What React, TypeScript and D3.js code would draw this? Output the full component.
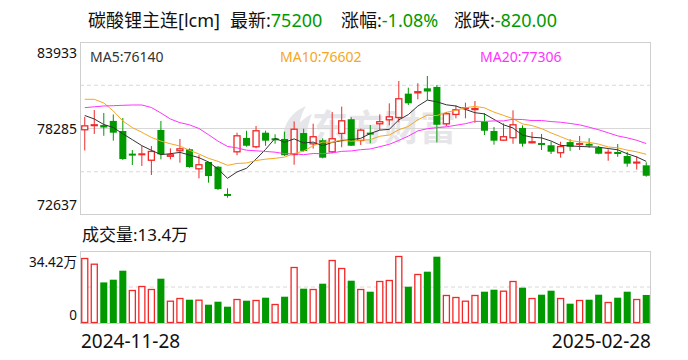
import React from "react";
import * as d3 from "d3";

// ---------- data ----------
const titleName = "碳酸锂主连[lcm]";
const latestPrice = "75200";
const changePct = "-1.08%";
const changeAbs = "-820.00";
const volumeNow = "13.4万";
const maLabels = ["MA5:76140", "MA10:76602", "MA20:77306"];
const dateTicks = ["2024-11-28", "2025-02-28"];
const priceTicks = [83933, 78285, 72637];
const volumeTickValues = [344200, 0];
const volumeTickLabels = ["34.42万", "0"];

// closes of the 19 sessions before the first candle (only feed the moving averages)
const priorCloses = [77400, 77290, 77630, 75770, 76170, 76610, 80080, 83780, 84440, 81790,
  78560, 80760, 83240, 82790, 80900, 79700, 80145, 78990, 78345];

const opens = [78170, 78440, 78510, 78780, 78120, 76590, 76590, 76180, 78190, 76440,
  76800, 76930, 75620, 76100, 75790, 73950, 76730, 77670, 77060, 78010,
  77590, 77600, 76550, 77990, 77250, 77520, 76730, 77930, 78890, 77470,
  77960, 78560, 78820, 78970, 80560, 80580, 80910, 81000, 78560, 79170,
  79600, 79490, 78730, 78120, 77490, 77650, 78320, 77320, 77280, 77190,
  76670, 77400, 77270, 77290, 77030, 76700, 76690, 76490, 76000, 75880];
const highs = [79050, 79490, 79300, 79200, 78970, 76880, 77140, 77140, 78780, 76990,
  77600, 76990, 76550, 76110, 75840, 74380, 78010, 78140, 78450, 78140,
  77910, 78080, 78750, 78270, 78600, 77650, 79360, 79710, 79020, 78270,
  78510, 79210, 79930, 81390, 80950, 81240, 81710, 81130, 79360, 79800,
  79970, 80080, 79280, 78380, 78620, 79470, 78490, 78060, 77930, 77420,
  77420, 77580, 77800, 77650, 77140, 76930, 77270, 76750, 76470, 76080];
const lows = [76850, 77930, 77810, 77490, 76230, 75900, 75840, 75250, 76270, 76270,
  76050, 75720, 75030, 74750, 74270, 73770, 76540, 77100, 76990, 77160,
  77290, 76490, 75920, 76770, 76970, 76340, 76670, 77060, 77140, 77210,
  77320, 78190, 78490, 78690, 79820, 80190, 80150, 77380, 78450, 78950,
  78950, 78660, 77860, 77230, 77480, 77290, 77100, 77320, 76880, 76620,
  76380, 76820, 76880, 77030, 76600, 76180, 76440, 75790, 75600, 75140];
const closes = [78490, 78560, 78350, 78010, 76290, 76570, 76610, 76820, 76600, 76600,
  76990, 75770, 75950, 75180, 74330, 73940, 77840, 77160, 78170, 77490,
  77570, 76540, 78270, 76820, 77780, 76380, 77650, 78820, 77160, 78210,
  77940, 78760, 79080, 80260, 79930, 80720, 80700, 78530, 79280, 79540,
  79610, 79620, 78140, 77490, 77780, 78560, 77290, 77450, 77270, 76770,
  77140, 77100, 77280, 77160, 76640, 76710, 76680, 75990, 76120, 75200];
const volumes = [310800, 283500, 194100, 207000, 250000, 157800, 176900, 162600, 211800, 106600,
  119500, 111400, 111400, 87500, 101800, 77900, 114700, 106600, 110000, 121000,
  90800, 125700, 267700, 164000, 162500, 187900, 301200, 262900, 202200, 162500,
  149600, 200800, 205600, 320300, 173500, 234300, 245300, 317000, 133900, 124300,
  106600, 133900, 149600, 159200, 154400, 200800, 168800, 119500, 135300, 154400,
  119500, 92300, 110000, 111400, 135300, 100400, 121000, 149600, 114700, 134000];

// ---------- style ----------
const RED = "#f02828";
const GREEN = "#009a00";
const MA_COLORS = ["#333333", "#f5a623", "#ff33ff"];
const FONT = "'Noto Sans', 'Noto Sans CJK SC', sans-serif";

const W = 688;
const H = 360;
const L = 80;
const R = 651;
const PT = 42;
const PB = 215;
const VT = 251;
const VB = 323;

export default function App() {
  const n = closes.length;
  const idx = d3.range(n);
  const x = d3.scaleBand<number>().domain(idx).range([L, R]).paddingInner(0.26).paddingOuter(0.13);
  const bw = x.bandwidth();
  const cx = (i: number) => (x(i) as number) + bw / 2;
  const y = d3.scaleLinear().domain([priceTicks[2], priceTicks[0]]).range([PB, PT]);
  const yv = d3.scaleLinear().domain([0, volumeTickValues[0]]).range([VB, VT]);

  const all = priorCloses.concat(closes);
  const off = priorCloses.length;
  const ma = (p: number) => idx.map((i) => d3.mean(all.slice(i + off - p + 1, i + off + 1)) as number);
  const maSeries = [ma(5), ma(10), ma(20)];
  const line = d3.line<number>().x((_, i) => cx(i)).y((v) => y(v));

  const gridY = [PT + (PB - PT) / 4, PT + (PB - PT) / 2, PT + (3 * (PB - PT)) / 4];
  const wmLogo = "M282 140 C 284 122, 292 112, 306 106 C 300 116, 298 126, 300 138 Z M290 140 C 294 128, 300 120, 312 114 C 308 124, 306 132, 308 140 Z";

  return (
    <svg width={W} height={H} style={{ position: "absolute", left: 0, top: 0, background: "#fff" }} fontFamily={FONT}>
      <rect x={0} y={0} width={W} height={H} fill="#fff" />
      {/* title */}
      <g fontSize={18} dominantBaseline="central">
        <text x={88} y={20} fill="#111">{titleName}</text>
        <text x={230} y={20} fill="#111">最新:<tspan fill={GREEN}>{latestPrice}</tspan></text>
        <text x={341} y={20} fill="#111">涨幅:<tspan fill={GREEN}>{changePct}</tspan></text>
        <text x={454} y={20} fill="#111">涨跌:<tspan fill={GREEN}>{changeAbs}</tspan></text>
      </g>

      {/* watermark */}
      <g fill="#e6e6ea">
        <path d={wmLogo} />
        <text x={312} y={141} fontSize={36} fontWeight="bold" fontFamily="'Noto Sans CJK SC', sans-serif">东方财富</text>
      </g>

      {/* price panel */}
      {gridY.map((g, k) => (
        <line key={k} x1={L} x2={R} y1={g} y2={g} stroke="#d8d8d8" strokeWidth={1} strokeDasharray={k === 1 ? undefined : "4,3"} />
      ))}
      <rect x={L + 0.5} y={PT + 0.5} width={R - L - 1} height={PB - PT - 1} fill="none" stroke="#cfcfcf" />
      <g fontSize={14} fill="#111" textAnchor="end" dominantBaseline="central">
        <text x={77} y={y(priceTicks[0]) + 10}>{priceTicks[0]}</text>
        <text x={77} y={y(priceTicks[1])}>{priceTicks[1]}</text>
        <text x={77} y={y(priceTicks[2]) - 10.5}>{priceTicks[2]}</text>
      </g>
      <g fontSize={14} dominantBaseline="central">
        <text x={90} y={56} fill={MA_COLORS[0]}>{maLabels[0]}</text>
        <text x={280} y={56} fill={MA_COLORS[1]}>{maLabels[1]}</text>
        <text x={480} y={56} fill={MA_COLORS[2]}>{maLabels[2]}</text>
      </g>

      {/* candles */}
      {idx.map((i) => {
        const up = closes[i] >= opens[i];
        const col = up ? RED : GREEN;
        const yo = y(opens[i]);
        const yc = y(closes[i]);
        const top = Math.min(yo, yc);
        const h = Math.abs(yo - yc);
        const xx = x(i) as number;
        return (
          <g key={i}>
            <line x1={cx(i)} x2={cx(i)} y1={y(highs[i])} y2={y(lows[i])} stroke={col} strokeWidth={1} />
            {h < 1.6 ? (
              <rect x={xx} y={(yo + yc) / 2 - 1} width={bw} height={2} fill={col} />
            ) : up ? (
              <rect x={xx + 0.5} y={top + 0.5} width={bw - 1} height={h - 1} fill="#fff" stroke={col} strokeWidth={1.3} />
            ) : (
              <rect x={xx} y={top} width={bw} height={h} fill={col} />
            )}
          </g>
        );
      })}

      {/* moving averages */}
      {maSeries.map((s, k) => (
        <path key={k} d={line(s) as string} fill="none" stroke={MA_COLORS[k]} strokeWidth={1} />
      ))}

      {/* volume panel */}
      <text x={82} y={234} fontSize={17} fill="#111" dominantBaseline="central">成交量:{volumeNow}</text>
      <line x1={L} x2={R} y1={(VT + VB) / 2} y2={(VT + VB) / 2} stroke="#d8d8d8" strokeDasharray="4,3" />
      <rect x={L + 0.5} y={VT + 0.5} width={R - L - 1} height={VB - VT} fill="none" stroke="#cfcfcf" />
      <g fontSize={13.5} fill="#111" textAnchor="end" dominantBaseline="central">
        <text x={77} y={yv(volumeTickValues[0]) + 10.5}>{volumeTickLabels[0]}</text>
        <text x={77} y={yv(volumeTickValues[1]) - 8}>{volumeTickLabels[1]}</text>
      </g>
      {idx.map((i) => {
        const prev = i === 0 ? priorCloses[priorCloses.length - 1] : closes[i - 1];
        const up = closes[i] >= prev;
        const xx = x(i) as number;
        const top = yv(volumes[i]);
        return up ? (
          <rect key={i} x={xx + 0.5} y={top + 0.5} width={bw - 1} height={VB - top - 1} fill="#fff" stroke={RED} strokeWidth={1.3} />
        ) : (
          <rect key={i} x={xx} y={top} width={bw} height={VB - top} fill={GREEN} />
        );
      })}

      {/* dates */}
      <g fontSize={19} fill="#111" dominantBaseline="central">
        <text x={81} y={341}>{dateTicks[0]}</text>
        <text x={R} y={341} textAnchor="end">{dateTicks[1]}</text>
      </g>
    </svg>
  );
}
